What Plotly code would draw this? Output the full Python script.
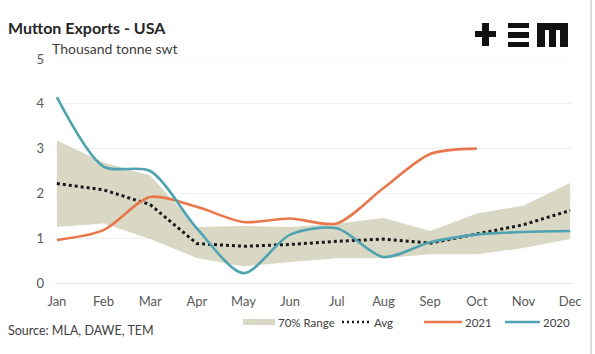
import plotly.graph_objects as go

months = ["Jan", "Feb", "Mar", "Apr", "May", "Jun", "Jul", "Aug", "Sep", "Oct", "Nov", "Dec"]
range_upper = [3.18, 2.69, 2.4, 1.25, 1.27, 1.25, 1.32, 1.45, 1.16, 1.55, 1.73, 2.23]
range_lower = [1.25, 1.33, 0.98, 0.56, 0.37, 0.47, 0.55, 0.55, 0.64, 0.64, 0.78, 0.98]
avg = [2.22, 2.08, 1.75, 0.88, 0.82, 0.86, 0.93, 0.98, 0.89, 1.1, 1.3, 1.62]
y2021 = [0.96, 1.18, 1.92, 1.7, 1.36, 1.44, 1.33, 2.12, 2.88, 3.0]
y2020 = [4.15, 2.6, 2.5, 1.22, 0.22, 1.08, 1.22, 0.58, 0.91, 1.08, 1.14, 1.16]

BAND = "#D8D8C5"
ORANGE = "#E8784B"
TEAL = "#4FA3B0"
FONT = "Lato"

L, R, T, B = 55, 572, 59, 283  # plot area in pixels
def px(x):
    return (x - L) / (R - L)
def py(y):
    return (B - y) / (B - T)

x = list(range(12))
fig = go.Figure()
fig.add_trace(go.Scatter(x=x, y=range_lower, mode="lines", line=dict(width=0, color=BAND),
                         showlegend=False, hoverinfo="skip"))
fig.add_trace(go.Scatter(x=x, y=range_upper, mode="lines", line=dict(width=0, color=BAND),
                         fill="tonexty", fillcolor=BAND, name="70% Range", showlegend=False))
fig.add_trace(go.Scatter(x=x, y=avg, mode="lines", line=dict(color="#1a1a1a", width=3, dash="3px,3px"),
                         name="Avg", showlegend=False))
fig.add_trace(go.Scatter(x=x[:len(y2021)], y=y2021, mode="lines",
                         line=dict(color=ORANGE, width=2.6, shape="spline", smoothing=0.8),
                         name="2021", showlegend=False))
fig.add_trace(go.Scatter(x=x, y=y2020, mode="lines",
                         line=dict(color=TEAL, width=2.6, shape="spline", smoothing=0.8),
                         name="2020", showlegend=False))

def ann(text, xp, yp, size, color):
    return dict(text=text, x=px(xp), y=py(yp), xref="paper", yref="paper", xanchor="left",
                yanchor="middle", showarrow=False, font=dict(size=size, color=color, family=FONT))

annotations = [
    ann("<b>Mutton Exports - USA</b>", 6, 27, 16, "#262626"),
    ann("Thousand tonne swt", 50, 48, 14, "#404040"),
    ann("Source: MLA, DAWE, TEM", 6, 330, 12.5, "#404040"),
]
shapes = [dict(type="line", xref="paper", yref="y", x0=0, x1=1, y0=5, y1=5, layer="below",
               line=dict(color="#eeeeee", width=1.2))]
# manual legend
leg_y = 322
legend_items = [
    ("band", 243, 275, "70% Range"),
    ("avg", 342, 371, "Avg"),
    ("2021", 424, 462, "2021"),
    ("2020", 505, 540, "2020"),
]
for kind, x0, x1, label in legend_items:
    if kind == "band":
        shapes.append(dict(type="rect", xref="paper", yref="paper", x0=px(x0), x1=px(x1),
                           y0=py(leg_y + 3), y1=py(leg_y - 3), fillcolor=BAND, line=dict(width=0)))
    elif kind == "avg":
        shapes.append(dict(type="line", xref="paper", yref="paper", x0=px(x0), x1=px(x1),
                           y0=py(leg_y), y1=py(leg_y), line=dict(color="#1a1a1a", width=2.5, dash="2px,3px")))
    else:
        col = ORANGE if kind == "2021" else TEAL
        shapes.append(dict(type="line", xref="paper", yref="paper", x0=px(x0), x1=px(x1),
                           y0=py(leg_y), y1=py(leg_y), line=dict(color=col, width=2.6)))
    annotations.append(ann(label, x1 + 1, leg_y, 11.5, "#404040"))

# logo +=m
def rect(x0, y0, x1, y1, color="#111111"):
    shapes.append(dict(type="rect", xref="paper", yref="paper", x0=px(x0), x1=px(x1),
                       y0=py(y1), y1=py(y0), fillcolor=color, line=dict(width=0)))
rect(475, 31, 496, 37)
rect(482, 23, 489, 46)
rect(508, 23, 529, 28)
rect(508, 32, 529, 38)
rect(508, 42, 529, 47)
rect(537, 23, 568, 30)
rect(537, 23, 545, 47)
rect(549, 23, 556, 47)
rect(560, 23, 568, 47)
# right border
shapes.append(dict(type="line", xref="paper", yref="paper", x0=px(591), x1=px(591),
                   y0=py(0), y1=py(354), line=dict(color="#d0d0d0", width=1.5)))

fig.update_layout(
    width=595, height=354,
    margin=dict(l=L, r=595 - R, t=T, b=354 - B),
    paper_bgcolor="white", plot_bgcolor="white",
    font=dict(family=FONT, size=12.5, color="#595959"),
    xaxis=dict(range=[-0.04, 11.04], tickmode="array", tickvals=x, ticktext=months,
               showgrid=False, zeroline=False, showline=False, ticks="", ticklabelstandoff=9,
               tickfont=dict(size=13, color="#595959", family=FONT)),
    yaxis=dict(range=[0, 5], dtick=1, showgrid=True, gridcolor="#eeeeee", gridwidth=1.2,
               zeroline=True, zerolinecolor="#e6e6e6", zerolinewidth=1.2, showline=False, ticks="",
               ticklabelstandoff=10, tickfont=dict(size=13, color="#595959", family=FONT)),
    annotations=annotations, shapes=shapes, showlegend=False,
)
fig.write_html("out.html")
